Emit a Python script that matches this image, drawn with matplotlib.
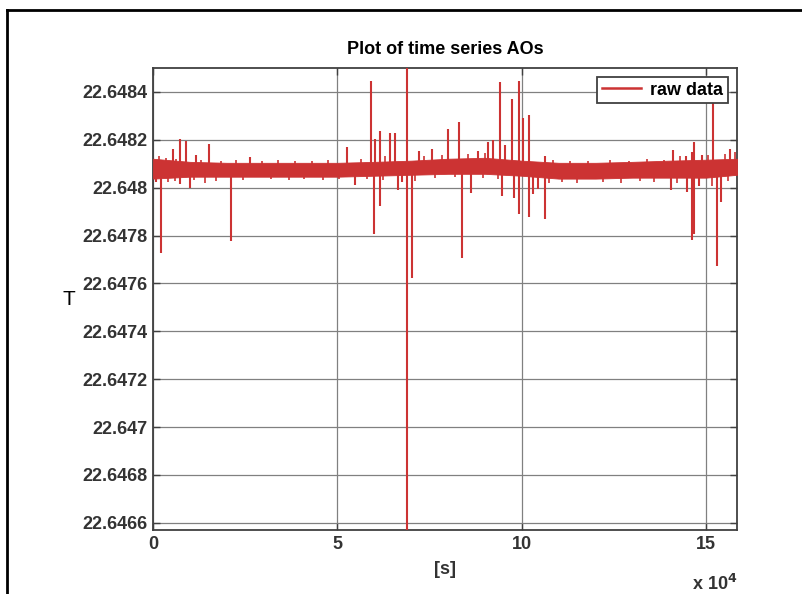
import numpy as np
import matplotlib
matplotlib.use("Agg")
import matplotlib.pyplot as plt
from matplotlib.lines import Line2D
from matplotlib.ticker import FuncFormatter

# time in units of 1e4 s
band_x = [0, 1, 2, 3, 4, 5, 6, 7, 8, 9, 10, 11, 12, 13, 14, 15, 15.84]
band_hi = [22.648121, 22.648108, 22.648104, 22.648104, 22.648104, 22.648104, 22.648108,
           22.648113, 22.648121, 22.648125, 22.648113, 22.648104, 22.648104, 22.648108,
           22.648113, 22.648117, 22.648121]
band_lo = [22.648038, 22.648046, 22.648046, 22.648046, 22.648046, 22.648046, 22.648050,
           22.648054, 22.648058, 22.648058, 22.648050, 22.648038, 22.648038, 22.648042,
           22.648042, 22.648042, 22.648054]

# spikes going up
up_x = [0.54, 0.73, 0.90, 1.17, 1.52, 2.63, 5.26, 5.91, 6.02, 6.16, 6.43, 6.56, 6.89,
        7.21, 7.57, 8.00, 8.30, 8.81, 9.09, 9.22, 9.41, 9.55, 9.74, 9.93, 10.04, 10.20,
        10.63, 14.10, 14.46, 14.62, 14.67, 14.89, 15.19, 15.65]
up_y = [22.648162, 22.648204, 22.648196, 22.648137, 22.648183, 22.648129, 22.648171,
        22.648446, 22.648204, 22.648238, 22.648229, 22.648229, 22.648700, 22.648154,
        22.648162, 22.648246, 22.648275, 22.648154, 22.648192, 22.648200, 22.648442,
        22.648179, 22.648371, 22.648446, 22.648292, 22.648304, 22.648133, 22.648158,
        22.648133, 22.648150, 22.648192, 22.648137, 22.648379, 22.648162]

# spikes going down
dn_x = [0.08, 0.22, 0.73, 1.00, 2.12, 5.48, 5.99, 6.16, 6.64, 6.75, 6.89, 7.02, 8.38,
        8.62, 9.47, 9.79, 9.93, 10.20, 10.31, 10.44, 10.63, 14.05, 14.48, 14.62, 14.67,
        14.81, 15.30, 15.41]
dn_y = [22.648025, 22.647729, 22.648017, 22.648000, 22.647779, 22.648013, 22.647808,
        22.647925, 22.647992, 22.648025, 22.646400, 22.647621, 22.647708, 22.647979,
        22.647967, 22.647958, 22.647892, 22.647879, 22.647975, 22.647996, 22.647871,
        22.647992, 22.647983, 22.647783, 22.647808, 22.648008, 22.647671, 22.647942]

# small fringe points on the edges of the noise band
fringe_up_x = [0.15, 0.35, 0.62, 1.30, 1.85, 2.25, 2.95, 3.40, 3.85, 4.30, 4.75, 5.65,
               6.30, 7.35, 7.85, 8.55, 9.00, 10.85, 11.30, 11.80, 12.40, 12.90, 13.40,
               13.85, 14.30, 15.05, 15.50, 15.78]
fringe_up_y = [22.648133, 22.648125, 22.648121, 22.648117, 22.648113, 22.648117, 22.648113,
               22.648117, 22.648113, 22.648113, 22.648117, 22.648121, 22.648133, 22.648133,
               22.648138, 22.648142, 22.648146, 22.648117, 22.648113, 22.648113, 22.648117,
               22.648113, 22.648121, 22.648117, 22.648133, 22.648138, 22.648142, 22.648150]
fringe_dn_x = [0.40, 0.60, 1.10, 1.40, 1.70, 2.45, 3.20, 3.70, 4.10, 4.60, 5.05, 5.80,
               6.25, 7.10, 7.65, 8.20, 8.95, 9.35, 10.75, 11.10, 11.50, 12.20, 12.70,
               13.20, 13.60, 14.20, 15.15, 15.60]
fringe_dn_y = [22.648025, 22.648030, 22.648033, 22.648021, 22.648030, 22.648033, 22.648038,
               22.648033, 22.648038, 22.648033, 22.648038, 22.648038, 22.648033, 22.648029,
               22.648042, 22.648046, 22.648042, 22.648038, 22.648021, 22.648025, 22.648021,
               22.648025, 22.648021, 22.648029, 22.648025, 22.648021, 22.648008, 22.648029]

red = "#cc3333"

plt.rcParams.update({
    "font.family": "Liberation Sans",
    "font.size": 13,
    "font.weight": "bold",
})

fig = plt.figure(figsize=(8.02, 5.94), dpi=100)
ax = fig.add_axes([0.1908, 0.1077, 0.7282, 0.7778])

bx = np.array(band_x) * 1e4
mid = (np.array(band_hi) + np.array(band_lo)) / 2
ax.fill_between(bx, band_lo, band_hi, color=red, lw=0.6, zorder=3)

for xs, ys, lw in [(up_x, up_y, 1.5), (dn_x, dn_y, 1.5),
                   (fringe_up_x, fringe_up_y, 1.2), (fringe_dn_x, fringe_dn_y, 1.2)]:
    xx = np.array(xs) * 1e4
    ax.vlines(xx, np.interp(xx, bx, mid), ys, color=red, lw=lw, zorder=3)
ax.plot([], [], color=red, lw=1.8, label="raw data")

ax.set_xlim(0, 158400)
ax.set_ylim(22.64657, 22.64850)
ax.set_xticks([0, 50000, 100000, 150000])
ax.xaxis.set_major_formatter(FuncFormatter(lambda v, p: f"{v/1e4:g}"))
yt = [22.6466, 22.6468, 22.647, 22.6472, 22.6474, 22.6476, 22.6478, 22.648, 22.6482, 22.6484]
ax.set_yticks(yt)
ax.set_yticklabels([f"{v:g}" for v in yt])

ax.grid(True, color="#808080", lw=0.9)
ax.set_axisbelow(True)
ax.tick_params(direction="in", top=True, right=True, length=5, width=1,
               colors="#404040", labelcolor="#333333", labelsize=13, pad=4)
for s in ax.spines.values():
    s.set_color("#404040")
    s.set_linewidth(1.3)

ax.set_title("Plot of time series AOs", fontsize=13, fontweight="bold", pad=10)
ax.set_xlabel("[s]", fontsize=13, fontweight="bold", color="#333333", labelpad=6)
ax.set_ylabel("T", fontsize=15, fontweight="normal", rotation=0, labelpad=10, va="center")
ax.text(1.0, -0.095, "x 10$^{4}$", transform=ax.transAxes, ha="right", va="top",
        fontsize=13, fontweight="bold", color="#333333")

leg = ax.legend(loc="upper right", fancybox=False, framealpha=1, borderaxespad=0.5,
                handlelength=2.2, prop={"weight": "bold", "size": 13},
                borderpad=0.25, handletextpad=0.5)
leg.get_frame().set_edgecolor("#404040")
leg.get_frame().set_linewidth(1.3)

# outer border (left and top edges)
fig.add_artist(Line2D([7 / 802, 7 / 802], [0, 1 - 10 / 594], color="black", lw=2,
                      transform=fig.transFigure))
fig.add_artist(Line2D([7 / 802, 1], [1 - 10 / 594, 1 - 10 / 594], color="black", lw=2,
                      transform=fig.transFigure))

fig.savefig("out.png", dpi=100)
